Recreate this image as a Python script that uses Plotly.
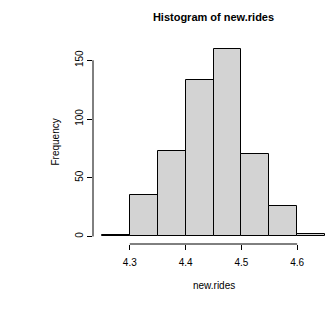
import plotly.graph_objects as go

# Data
bin_edges = [4.25, 4.30, 4.35, 4.40, 4.45, 4.50, 4.55, 4.60, 4.65]
counts = [1, 35, 73, 133, 160, 70, 26, 2]
x_ticks = [4.3, 4.4, 4.5, 4.6]
x_tick_labels = ["4.3", "4.4", "4.5", "4.6"]
y_ticks = [0, 50, 100, 150]
y_tick_labels = ["0", "50", "100", "150"]
title_text = "Histogram of new.rides"
x_title = "new.rides"
y_title = "Frequency"

centers = [(a + b) / 2 for a, b in zip(bin_edges[:-1], bin_edges[1:])]
widths = [b - a for a, b in zip(bin_edges[:-1], bin_edges[1:])]

FONT = "Liberation Sans, Arial, sans-serif"

fig = go.Figure()
fig.add_trace(go.Bar(
    x=centers, y=counts, width=widths,
    marker=dict(color="#D3D3D3", line=dict(color="black", width=1)),
    hoverinfo="skip",
))

xr = bin_edges[-1] - bin_edges[0]
x_range = [bin_edges[0] - 0.04 * xr, bin_edges[-1] + 0.04 * xr]
ymax = max(counts)
y_range = [-0.04 * ymax, ymax * 1.04]

fig.update_layout(
    width=336, height=317,
    margin=dict(l=93, r=2, t=41, b=73),
    paper_bgcolor="white", plot_bgcolor="white",
    showlegend=False,
    bargap=0,
    font=dict(family=FONT, size=10, color="black"),
    title=dict(text="<b>" + title_text + "</b>", x=213.5 / 336, xanchor="center",
               y=1 - 17 / 317, yanchor="middle", yref="container",
               font=dict(family=FONT, size=11, color="black")),
    xaxis=dict(range=x_range, showgrid=False, zeroline=False, showline=False,
               ticks="outside", ticklen=5, tickcolor="black", tickwidth=1,
               tickvals=x_ticks, ticktext=x_tick_labels, tickfont=dict(size=10),
               ticklabelstandoff=4),
    yaxis=dict(range=y_range, showgrid=False, zeroline=False, showline=False,
               ticks="outside", ticklen=5, tickcolor="black", tickwidth=1,
               tickvals=y_ticks, ticktext=y_tick_labels, tickangle=-90,
               tickfont=dict(size=10)),
)

# R-style axis lines spanning only first to last tick
fig.add_shape(type="line", xref="x", yref="paper", x0=x_ticks[0], x1=x_ticks[-1],
              y0=0, y1=0, line=dict(color="black", width=1))
fig.add_shape(type="line", xref="paper", yref="y", x0=0, x1=0,
              y0=y_ticks[0], y1=y_ticks[-1], line=dict(color="black", width=1))

fig.add_annotation(text=x_title, xref="paper", yref="paper", x=0.5, y=-(285 - 244) / 203,
                   yanchor="middle", showarrow=False, font=dict(size=10))
fig.add_annotation(text=y_title, xref="paper", yref="paper", x=-(93 - 55) / 241, y=0.5,
                   xanchor="center", textangle=-90, showarrow=False, font=dict(size=10))

fig.write_html("out.html")
